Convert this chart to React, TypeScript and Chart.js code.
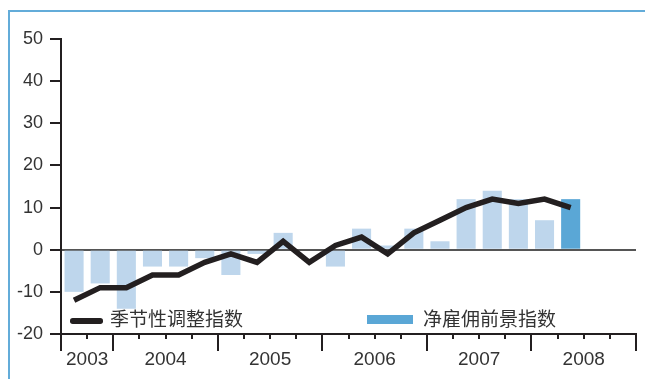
import React, { useEffect, useRef } from 'react';
import { Chart, registerables } from 'chart.js';

Chart.register(...registerables);

const quarters = [
  '2003Q3', '2003Q4',
  '2004Q1', '2004Q2', '2004Q3', '2004Q4',
  '2005Q1', '2005Q2', '2005Q3', '2005Q4',
  '2006Q1', '2006Q2', '2006Q3', '2006Q4',
  '2007Q1', '2007Q2', '2007Q3', '2007Q4',
  '2008Q1', '2008Q2', '2008Q3', '2008Q4',
];
const yearLabels = ['2003', '2004', '2005', '2006', '2007', '2008'];
const netEmploymentOutlook = [-10, -8, -14, -4, -4, -2, -6, -1, 4, 0, -4, 5, 1, 5, 2, 12, 14, 12, 7, 12, null, null];
const seasonallyAdjusted = [-12, -9, -9, -6, -6, -3, -1, -3, 2, -3, 1, 3, -1, 4, 7, 10, 12, 11, 12, 10, null, null];
const yMin = -20;
const yMax = 50;
const yStep = 10;
const lineLabel = '季节性调整指数';
const barLabel = '净雇佣前景指数';

const INK = '#231f20';
const TEXT = '#333333';
const LIGHT_BAR = '#bed6ec';
const DARK_BAR = '#5aa7d6';
const FRAME = '#63acd9';

const xAxisDecor = {
  id: 'xAxisDecor',
  afterDraw(chart: any) {
    const xs = chart.scales.x;
    const ctx = chart.ctx;
    const bottom = chart.chartArea.bottom;
    const n = quarters.length;
    const half = (xs.getPixelForValue(1) - xs.getPixelForValue(0)) / 2;
    ctx.save();
    ctx.strokeStyle = INK;
    ctx.lineWidth = 2;
    ctx.lineCap = 'butt';
    for (let i = 0; i <= n; i++) {
      const x = i < n ? xs.getPixelForValue(i) - half : xs.getPixelForValue(n - 1) + half;
      const major = i === 0 || i === n || quarters[i].endsWith('Q1');
      ctx.beginPath();
      ctx.moveTo(Math.round(x), bottom);
      ctx.lineTo(Math.round(x), bottom + (major ? 17 : 5));
      ctx.stroke();
    }
    ctx.fillStyle = TEXT;
    ctx.font = '19px "Liberation Sans", Arial, sans-serif';
    ctx.textAlign = 'center';
    ctx.textBaseline = 'alphabetic';
    yearLabels.forEach((yr) => {
      const idx = quarters.map((q, i) => (q.startsWith(yr) ? i : -1)).filter((i) => i >= 0);
      const first = idx[0];
      const last = idx[idx.length - 1];
      const cx = (xs.getPixelForValue(first) + xs.getPixelForValue(last)) / 2;
      ctx.fillText(yr, cx, bottom + 31);
    });
    ctx.restore();
  },
};

export default function App() {
  const canvasRef = useRef<HTMLCanvasElement | null>(null);

  useEffect(() => {
    if (!canvasRef.current) return;
    const lastIdx = netEmploymentOutlook.reduce((acc: number, v, i) => (v !== null ? i : acc), -1);
    const chart = new Chart(canvasRef.current, {
      type: 'bar',
      data: {
        labels: quarters,
        datasets: [
          {
            type: 'line',
            label: lineLabel,
            data: seasonallyAdjusted,
            borderColor: INK,
            borderWidth: 5.5,
            pointRadius: 0,
            tension: 0,
            borderJoinStyle: 'miter',
            borderCapStyle: 'butt',
            spanGaps: false,
            order: 0,
          } as any,
          {
            type: 'bar',
            label: barLabel,
            data: netEmploymentOutlook,
            backgroundColor: netEmploymentOutlook.map((_, i) => (i === lastIdx ? DARK_BAR : LIGHT_BAR)),
            borderWidth: 0,
            barPercentage: 0.73,
            categoryPercentage: 1,
            order: 1,
          } as any,
        ],
      },
      options: {
        responsive: false,
        animation: false,
        layout: { padding: { top: 39, right: 9, bottom: 0, left: 0 } },
        plugins: { legend: { display: false }, tooltip: { enabled: false } },
        scales: {
          x: {
            type: 'category',
            offset: true,
            grid: { display: false },
            border: { display: true, color: INK, width: 2 },
            ticks: { display: false },
            afterFit: (s: any) => { s.height = 45; },
          },
          y: {
            min: yMin,
            max: yMax,
            ticks: {
              stepSize: yStep,
              padding: 7,
              color: TEXT,
              font: { family: '"Liberation Sans", Arial, sans-serif', size: 18 },
            },
            grid: {
              drawOnChartArea: true,
              color: (c: any) => (c.tick && c.tick.value === 0 ? '#555555' : 'rgba(0,0,0,0)'),
              lineWidth: 2,
              tickColor: INK,
              tickWidth: 2,
              tickLength: 11,
            },
            border: { display: true, color: INK, width: 2 },
            afterFit: (s: any) => { s.width = 61; },
          },
        },
      },
      plugins: [xAxisDecor],
    });
    return () => chart.destroy();
  }, []);

  const cjk = '"Noto Sans CJK SC", "Noto Sans", sans-serif';
  return (
    <div style={{ position: 'fixed', left: 0, top: 0, width: 645, height: 379, background: '#fff', overflow: 'hidden' }}>
      <canvas ref={canvasRef} width={645} height={379} style={{ position: 'absolute', left: 0, top: 0 }} />
      <div style={{ position: 'absolute', left: 7.5, top: 10, width: 640, height: 372, borderTop: `2.5px solid ${FRAME}`, borderLeft: `2.5px solid ${FRAME}`, boxSizing: 'border-box', pointerEvents: 'none' }} />
      <div style={{ position: 'absolute', left: 70, top: 318, width: 33, height: 5.5, background: INK, borderRadius: 2.75 }} />
      <div style={{ position: 'absolute', left: 110, top: 308, fontFamily: cjk, fontSize: 19, lineHeight: '19px', color: TEXT, whiteSpace: 'nowrap' }}>{lineLabel}</div>
      <div style={{ position: 'absolute', left: 367, top: 315, width: 46, height: 9, background: DARK_BAR }} />
      <div style={{ position: 'absolute', left: 423, top: 308, fontFamily: cjk, fontSize: 19, lineHeight: '19px', color: TEXT, whiteSpace: 'nowrap' }}>{barLabel}</div>
    </div>
  );
}
